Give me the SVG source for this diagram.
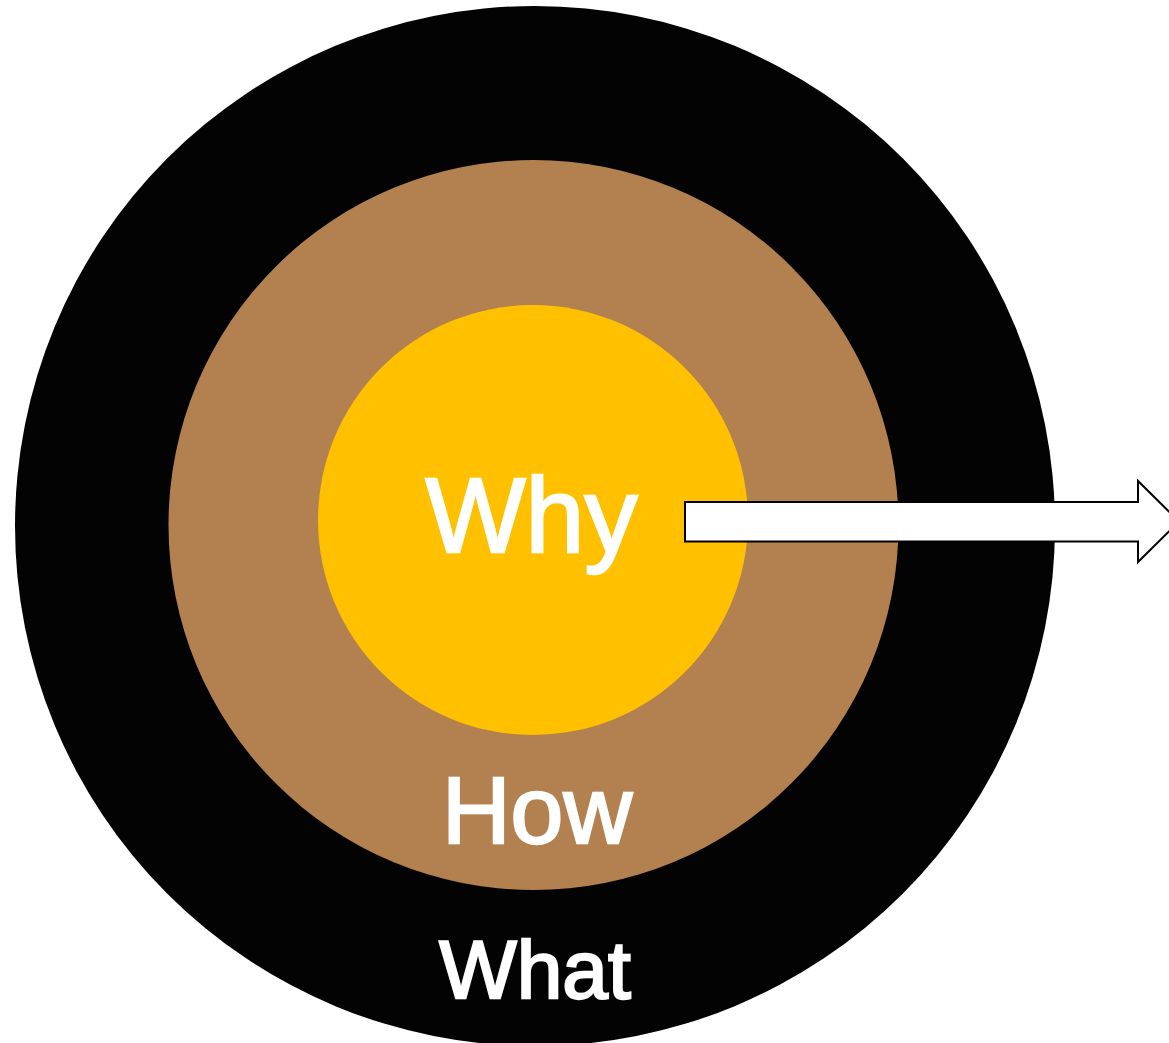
<svg xmlns="http://www.w3.org/2000/svg" width="1169" height="1043" viewBox="0 0 1169 1043">
<style>
.lbl{font-family:"Liberation Sans",Arial,sans-serif;fill:#fff;stroke:#fff;stroke-width:2.4;text-anchor:middle}
</style>
<rect width="1169" height="1043" fill="#fff"/>
<g id="what">
<circle cx="535" cy="526" r="520" fill="#030303"/>
<text class="lbl" x="535" y="998" font-size="82">What</text>
</g>
<g id="how">
<circle cx="533.5" cy="525" r="365" fill="#B3814F"/>
<text class="lbl" x="537" y="843" font-size="95">How</text>
</g>
<g id="why">
<circle cx="533" cy="520" r="215" fill="#FFC000"/>
<text class="lbl" x="531.5" y="552" font-size="106">Why</text>
</g>
<g id="connectors">
<polygon points="685,502 1138,502 1138,481 1179,521.5 1138,562 1138,541.5 685,541.5" fill="#fff" stroke="#000" stroke-width="2"/>
</g>
</svg>
